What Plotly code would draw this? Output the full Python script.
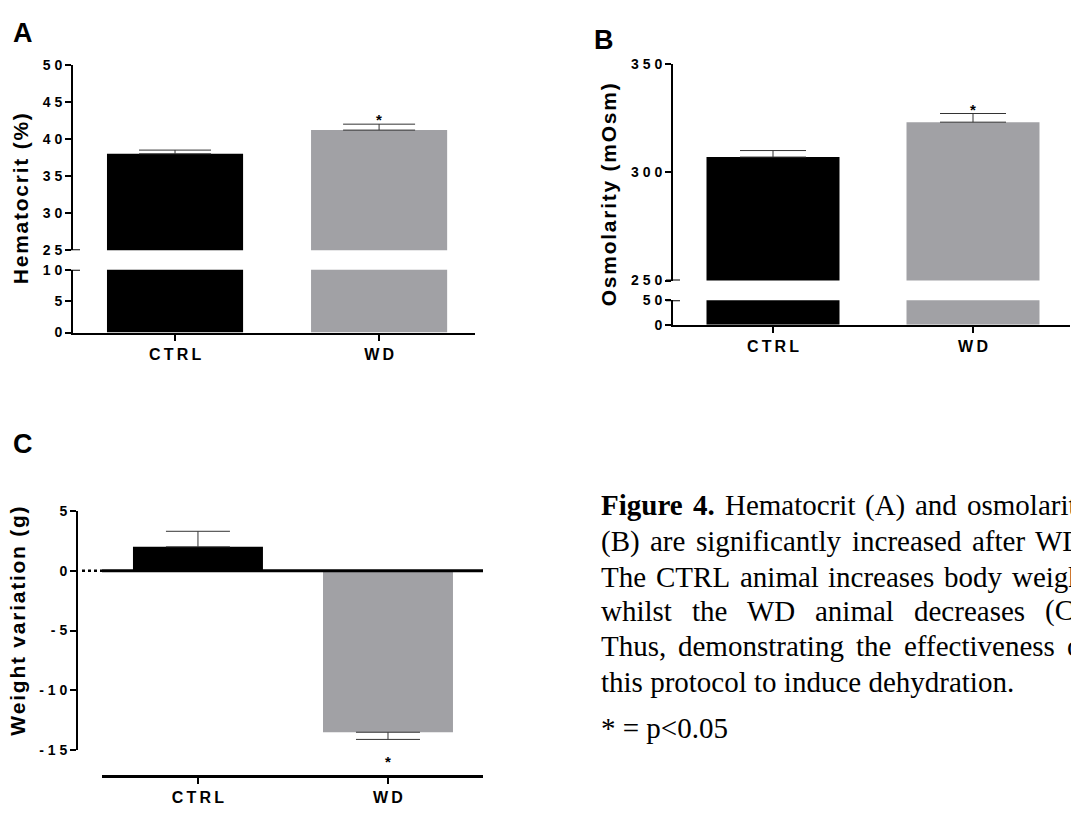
import plotly.graph_objects as go

# ---------------- data ----------------
categories = ["CTRL", "WD"]
bar_colors = ["#000000", "#a1a1a5"]

hematocrit = [38.0, 41.2]
hematocrit_err = [0.5, 0.8]
osmolarity = [307.0, 323.1]
osmolarity_err = [3.0, 4.0]
weight_variation = [2.0, -13.5]
weight_variation_err = [1.3, 0.6]

hct_upper_ticks = [25, 30, 35, 40, 45, 50]
hct_lower_ticks = [0, 5, 10]
osm_upper_ticks = [250, 300, 350]
osm_lower_ticks = [0, 50]
wt_ticks = [-15, -10, -5, 0, 5]

# caption: justified lines (word lists, with bold flag) and last line
caption_justified = [
    [("Figure", True), ("4.", True), ("Hematocrit", False), ("(A)", False), ("and", False), ("osmolarity", False)],
    [("(B)", False), ("are", False), ("significantly", False), ("increased", False), ("after", False), ("WD.", False)],
    [("The", False), ("CTRL", False), ("animal", False), ("increases", False), ("body", False), ("weight", False)],
    [("whilst", False), ("the", False), ("WD", False), ("animal", False), ("decreases", False), ("(C).", False)],
    [("Thus,", False), ("demonstrating", False), ("the", False), ("effectiveness", False), ("of", False)],
]
caption_last = "this protocol to induce dehydration."
pvalue_note = "* = p&lt;0.05"

# ---------------- helpers ----------------
W, H = 1071, 817
FONT = "Liberation Sans, Arial, sans-serif"
SERIF = "Liberation Serif, Times New Roman, serif"
THIN = "\u2009"
HAIR = "\u200a"

# Times (Liberation Serif) advance widths, per em
TIMES_REG = {" ": .25, "(": .333, ")": .333, ".": .25, ",": .25, "A": .722, "B": .667, "C": .667,
             "D": .722, "F": .556, "H": .722, "L": .611, "R": .667, "T": .611, "W": .944,
             "a": .444, "b": .5, "c": .444, "d": .5, "e": .444, "f": .333, "g": .5, "h": .5,
             "i": .278, "l": .278, "m": .778, "n": .5, "o": .5, "p": .5, "r": .333, "s": .389,
             "t": .278, "u": .5, "v": .5, "w": .722, "y": .5, "4": .5}
TIMES_BOLD = {"F": .611, "i": .278, "g": .5, "u": .556, "r": .444, "e": .444, "4": .5, ".": .25}


def word_width(word, bold, size):
    table = TIMES_BOLD if bold else TIMES_REG
    return sum(table.get(ch, TIMES_REG.get(ch, .5)) for ch in word) * size


def px_x(px):
    return px / W


def px_y(py):
    return 1 - py / H


def spaced(s, sep=" "):
    return sep.join(list(str(s)))


def up_err(vals, errs):
    return [e if v >= 0 else 0 for v, e in zip(vals, errs)]


def down_err(vals, errs):
    return [0 if v >= 0 else e for v, e in zip(vals, errs)]


TICKFONT = dict(family=FONT, size=14, color="black", weight="bold")
CATFONT = dict(family=FONT, size=16, color="black", weight="bold")
cat_labels = [spaced(c, THIN) for c in categories]


def bar_trace(vals, errs, xa, ya, width, cap, show_err):
    return go.Bar(
        x=categories, y=vals, xaxis=xa, yaxis=ya, width=width,
        marker=dict(color=bar_colors, line=dict(width=0)),
        error_y=dict(type="data", symmetric=False,
                     array=up_err(vals, errs), arrayminus=down_err(vals, errs),
                     visible=show_err, color="#333333", thickness=1, width=cap),
        showlegend=False, hoverinfo="skip",
    )


fig = go.Figure()
# Panel A (broken axis: upper and lower segments)
fig.add_trace(bar_trace(hematocrit, hematocrit_err, "x", "y", 0.667, 36, True))
fig.add_trace(bar_trace(hematocrit, hematocrit_err, "x", "y2", 0.667, 36, False))
# Panel B (broken axis)
fig.add_trace(bar_trace(osmolarity, osmolarity_err, "x3", "y3", 0.665, 33, True))
fig.add_trace(bar_trace(osmolarity, osmolarity_err, "x3", "y4", 0.665, 33, False))
# Panel C
fig.add_trace(bar_trace(weight_variation, weight_variation_err, "x5", "y5", 0.684, 32, True))

axis_common = dict(showline=True, linecolor="black", linewidth=2, ticks="outside",
                   tickcolor="black", tickwidth=2, ticklen=6, showgrid=False,
                   zeroline=False, fixedrange=True)

xcommon = dict(axis_common, tickvals=categories, ticktext=cat_labels, tickfont=CATFONT,
               type="category")


def ycommon(ticks):
    return dict(axis_common, tickvals=ticks, ticktext=[spaced(t) for t in ticks],
                tickfont=TICKFONT)


fig.update_layout(
    width=W, height=H, margin=dict(l=0, r=0, t=0, b=0),
    paper_bgcolor="white", plot_bgcolor="rgba(0,0,0,0)",
    barmode="overlay", showlegend=False,
    xaxis=dict(xcommon, domain=[px_x(73), px_x(475)], range=[-0.5, 1.47], anchor="y2"),
    yaxis=dict(ycommon(hct_upper_ticks), domain=[px_y(247), px_y(58)], range=[25, 50], anchor="x"),
    yaxis2=dict(ycommon(hct_lower_ticks), domain=[px_y(331), px_y(267)], range=[0, 10], anchor="x"),
    xaxis3=dict(xcommon, domain=[px_x(673), px_x(1070)], range=[-0.5, 1.485], anchor="y4"),
    yaxis3=dict(ycommon(osm_upper_ticks), domain=[px_y(278), px_y(57)], range=[250, 350], anchor="x3"),
    yaxis4=dict(ycommon(osm_lower_ticks), domain=[px_y(323), px_y(298)], range=[0, 50], anchor="x3"),
    xaxis5=dict(xcommon, domain=[px_x(102), px_x(483)], range=[-0.505, 1.5],
                anchor="free", position=px_y(783), linewidth=3),
    yaxis5=dict(ycommon(wt_ticks), domain=[px_y(757), px_y(513)], range=[-15, 5],
                anchor="free", position=px_x(77)),
)

shapes = []
# axis-break marks
for yref, yv, x0, x1 in [("y", 25, 66, 80), ("y2", 10, 66, 80), ("y3", 250, 666, 680), ("y4", 50, 666, 680)]:
    shapes.append(dict(type="line", xref="paper", yref=yref, x0=px_x(x0), x1=px_x(x1),
                       y0=yv, y1=yv, line=dict(color="black", width=2)))
# zero line of panel C (solid across plot, dotted stub to the axis)
shapes.append(dict(type="line", xref="x5 domain", yref="y5", x0=0, x1=1, y0=0, y1=0,
                   line=dict(color="black", width=3), layer="above"))
shapes.append(dict(type="line", xref="paper", yref="y5", x0=px_x(82), x1=px_x(102), y0=0, y1=0,
                   line=dict(color="black", width=2.5, dash="dot"), layer="above"))
fig.update_layout(shapes=shapes)

ann = []
TITLEFONT = dict(family=FONT, size=21, color="black", weight="bold")


def vtitle(text, xpx, ypx):
    return dict(text=spaced(text, HAIR), xref="paper", yref="paper", x=px_x(xpx), y=px_y(ypx),
                xanchor="center", yanchor="middle", textangle=-90, showarrow=False, font=TITLEFONT)


ann.append(vtitle("Hematocrit (%)", 20, 195))
ann.append(vtitle("Osmolarity (mOsm)", 608, 191))
ann.append(vtitle("Weight variation (g)", 18, 626))

LETTERFONT = dict(family=FONT, size=27, color="black", weight="bold")
for letter, xpx, ypx in [("A", 11, 25), ("B", 592, 33), ("C", 11, 445)]:
    ann.append(dict(text=letter, xref="paper", yref="paper", x=px_x(xpx), y=px_y(ypx),
                    xanchor="left", yanchor="middle", showarrow=False, font=LETTERFONT))

STARFONT = dict(family=FONT, size=15, color="black", weight="bold")
ann.append(dict(text="*", xref="x", yref="y", x=categories[1], y=hematocrit[1] + hematocrit_err[1],
                yanchor="bottom", yshift=-6, showarrow=False, font=STARFONT))
ann.append(dict(text="*", xref="x3", yref="y3", x=categories[1], y=osmolarity[1] + osmolarity_err[1],
                yanchor="bottom", yshift=-6, showarrow=False, font=STARFONT))
ann.append(dict(text="*", xref="x5", yref="y5", x=categories[1],
                y=weight_variation[1] - weight_variation_err[1],
                yanchor="top", yshift=-12, showarrow=False, font=STARFONT))

CAP_SIZE = 29
CAPFONT = dict(family=SERIF, size=CAP_SIZE, color="black")
CAP_LEFT, CAP_RIGHT = 600, 1090
line_mid = [507, 544, 580, 615, 651, 687]
for words, ypx in zip(caption_justified, line_mid):
    widths = [word_width(w, b, CAP_SIZE) for w, b in words]
    gap = (CAP_RIGHT - CAP_LEFT - sum(widths)) / (len(words) - 1)
    xpos = CAP_LEFT
    for (w, b), wd in zip(words, widths):
        ann.append(dict(text=f"<b>{w}</b>" if b else w, xref="paper", yref="paper",
                        x=px_x(xpos - 1), y=px_y(ypx), xanchor="left", yanchor="middle",
                        showarrow=False, font=CAPFONT))
        xpos += wd + gap
ann.append(dict(text=caption_last, xref="paper", yref="paper", x=px_x(CAP_LEFT - 1), y=px_y(line_mid[5]),
                xanchor="left", yanchor="middle", showarrow=False, font=CAPFONT))
ann.append(dict(text=pvalue_note, xref="paper", yref="paper", x=px_x(CAP_LEFT - 1), y=px_y(734),
                xanchor="left", yanchor="middle", showarrow=False, font=CAPFONT))

fig.update_layout(annotations=ann)

fig.write_html(
    "out.html",
    config={"displayModeBar": False},
    post_script="document.body.style.margin='0';document.body.style.overflow='hidden';",
)
